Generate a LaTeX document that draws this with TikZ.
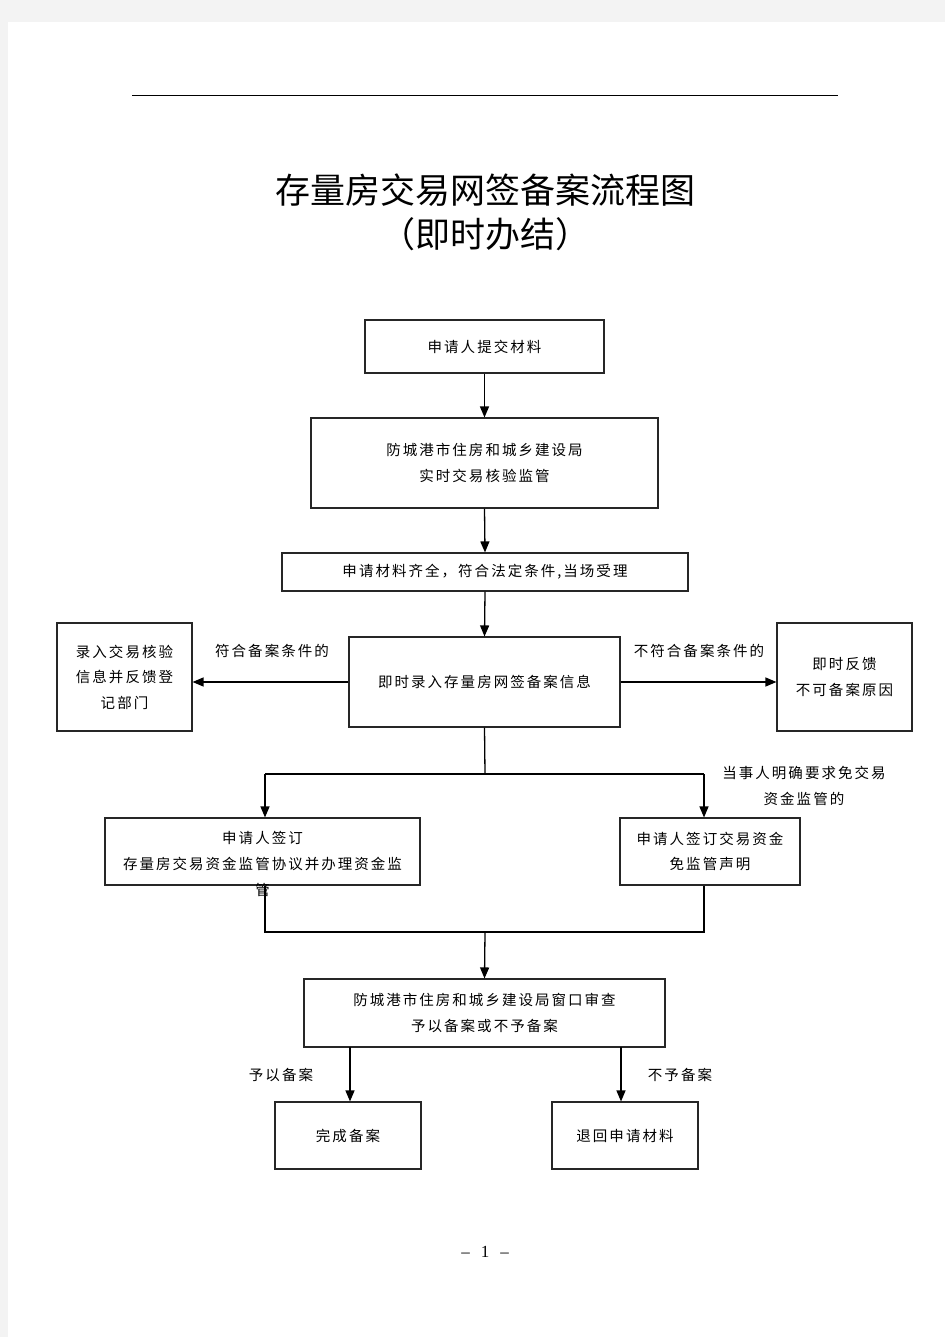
\documentclass[tikz,border=0pt]{standalone}
\usepackage{fontspec}
\setmainfont{Liberation Serif}
\newfontfamily\cjk[LetterSpace=14]{Noto Sans CJK SC}
\newfontfamily\cjktitle{Noto Sans CJK SC}
\usetikzlibrary{arrows.meta}
\definecolor{bggray}{HTML}{F3F3F3}
\begin{document}
\begin{tikzpicture}[x=1pt,y=-1pt,
  box/.style={draw=black!85, line width=1.1pt, inner sep=0pt, align=center, font=\cjk\fontsize{14.5}{25.5}\selectfont},
  lbl/.style={inner sep=0pt, align=center, font=\cjk\fontsize{14.5}{26}\selectfont},
  conn/.style={line width=1.3pt, draw=black},
  arr/.style={conn, -{Triangle[length=11pt,width=9pt]}}]
\useasboundingbox (0,0) rectangle (945,1337);
\fill[bggray] (0,0) rectangle (945,1337);
\fill[white] (8,22) rectangle (945,1337);

% header rule
\coordinate (hl) at (132,96);
\coordinate (hr) at (838,96);
\draw[line width=1pt] (hl) -- (hr);

% title
\node[font=\cjktitle\fontsize{35}{44}\selectfont, align=center] (title) at (485,212) {存量房交易网签备案流程图\\（即时办结）};

% boxes
\node[box, minimum width=239, minimum height=53] (n1) at (484.5,346.5) {申请人提交材料};
\node[box, minimum width=347, minimum height=90] (n2) at (484.5,463) {防城港市住房和城乡建设局\\实时交易核验监管};
\node[box, minimum width=406, minimum height=38] (n3) at (485,572) {申请材料齐全，符合法定条件,当场受理};
\node[box, minimum width=271, minimum height=90] (n4) at (484.5,682) {即时录入存量房网签备案信息};
\node[box, minimum width=135, minimum height=108] (n5) at (124.5,677) {录入交易核验\\信息并反馈登\\记部门};
\node[box, minimum width=135, minimum height=108] (n6) at (844.5,677) {即时反馈\\不可备案原因};
\node[box, minimum width=315, minimum height=67] (n7) at (262.5,851.5) {};
\node[lbl] (t7) at (262.5,864) {申请人签订\\存量房交易资金监管协议并办理资金监\\管};
\node[box, minimum width=180, minimum height=67] (n8) at (710,851.5) {申请人签订交易资金\\免监管声明};
\node[box, minimum width=361, minimum height=68] (n9) at (484.5,1013) {防城港市住房和城乡建设局窗口审查\\予以备案或不予备案};
\node[box, minimum width=146, minimum height=67] (n10) at (348,1135.5) {完成备案};
\node[box, minimum width=146, minimum height=67] (n11) at (625,1135.5) {退回申请材料};

% labels
\node[lbl] (l1) at (272,651) {符合备案条件的};
\node[lbl] (l2) at (699,651) {不符合备案条件的};
\node[lbl] (l3) at (804,786) {当事人明确要求免交易\\资金监管的};
\node[lbl] (l4) at (281,1075) {予以备案};
\node[lbl] (l5) at (680,1075) {不予备案};

% connectors
\draw[arr] (n1.south) -- (n2.north);
\draw[arr] (n2.south) -- (n3.north);
\draw[arr] (n3.south) -- (n4.north);
\draw[arr] (n4.west) -- (n5.east |- n4.west);
\draw[arr] (n4.east) -- (n6.west |- n4.east);

\coordinate (s) at (485,774);
\coordinate (sl) at (265,774);
\coordinate (sr) at (704,774);
\draw[conn] (n4.south) -- (s);
\draw[conn] (sl) -- (sr);
\draw[arr] (sl) -- (sl |- n7.north);
\draw[arr] (sr) -- (sr |- n8.north);

\coordinate (ml) at (265,932);
\coordinate (mr) at (704,932);
\coordinate (m) at (485,932);
\draw[conn] (ml |- n7.south) -- (ml) -- (mr) -- (mr |- n8.south);
\draw[arr] (m) -- (n9.north);

\coordinate (bl) at (350,1047);
\coordinate (br) at (621,1047);
\draw[arr] (bl) -- (bl |- n10.north);
\draw[arr] (br) -- (br |- n11.north);

% page number
\node[font=\fontsize{17}{20}\selectfont] (pg) at (485,1252) {–\hspace{11pt}1\hspace{11pt}–};
\end{tikzpicture}
\end{document}
